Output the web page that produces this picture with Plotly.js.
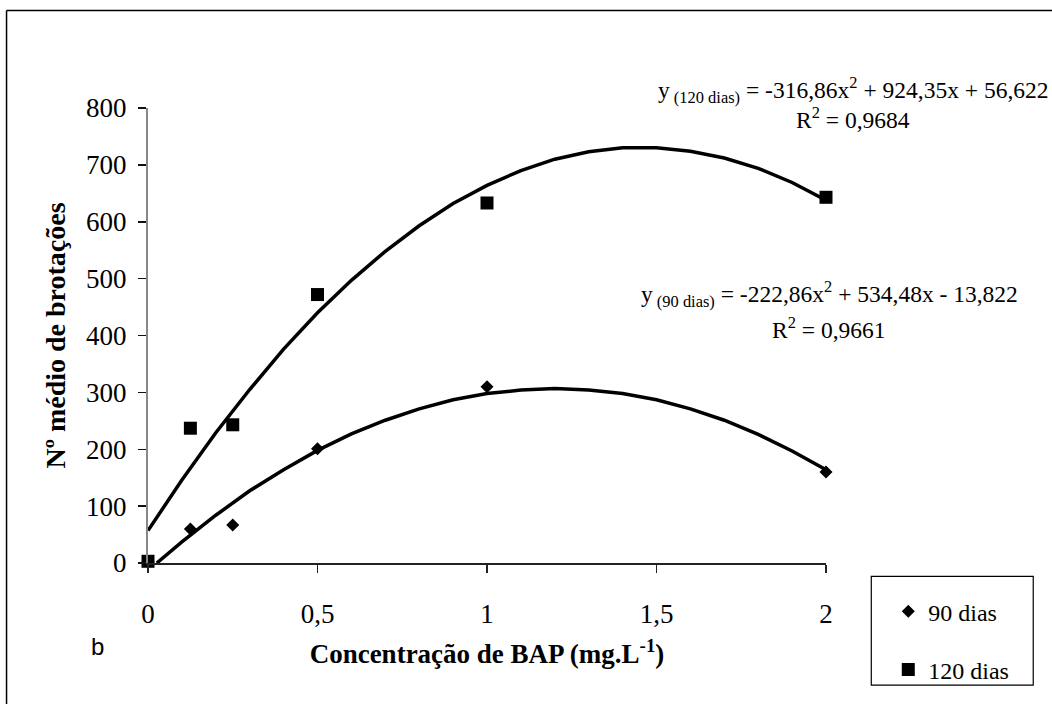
<!DOCTYPE html>
<html>
<head>
<meta charset="utf-8">
<script src="https://cdn.plot.ly/plotly-3.0.1.min.js"></script>
<style>html,body{margin:0;padding:0;background:#fff;}#chart{width:1052px;height:704px;}</style>
</head>
<body>
<div id="chart"></div>
<script>
// ---- data ----
const doses = [0, 0.125, 0.25, 0.5, 1, 2];
const dias90 = [2, 60, 67, 201, 310, 160];
const dias120 = [3, 237, 243, 472, 633, 643];

// trendline points
const curve120X = [0,0.1,0.2,0.3,0.4,0.5,0.6,0.7,0.8,0.9,1.0,1.1,1.2,1.3,1.4,1.5,1.6,1.7,1.8,1.9,2.0];
const curve120Y = [57,146,229,305,376,440,497,548,593,632,664,690,710,723,730,730,724,712,694,669,638];
const curve90X = [0.026,0.1,0.2,0.3,0.4,0.5,0.6,0.7,0.8,0.9,1.0,1.1,1.2,1.3,1.4,1.5,1.6,1.7,1.8,1.9,2.0];
const curve90Y = [0,37,84,127,164,198,227,251,271,287,298,304,307,304,298,287,271,251,226,197,164];

const xTickVals = [0, 0.5, 1, 1.5, 2];
const xTickText = ['0', '0,5', '1', '1,5', '2'];
const yTickVals = [0, 100, 200, 300, 400, 500, 600, 700, 800];

const eq120 = 'y<sub> (120 dias)</sub> = -316,86x<sup>2</sup> + 924,35x + 56,622';
const r120 = 'R<sup>2</sup> = 0,9684';
const eq90 = 'y<sub> (90 dias)</sub> = -222,86x<sup>2</sup> + 534,48x - 13,822';
const r90 = 'R<sup>2</sup> = 0,9661';

// ---- layout geometry ----
const W = 1052, H = 704;
const L = 147.5, R = 825.7, T = 107.5, B = 567.5;
const pw = R - L, ph = B - T;
const px = v => (v - L) / pw;
const py = v => (B - v) / ph;

const serif = 'Liberation Serif';

const traces = [
  {x: curve120X, y: curve120Y, mode: 'lines', line: {color: '#000', width: 3.5}, showlegend: false, hoverinfo: 'skip'},
  {x: curve90X, y: curve90Y, mode: 'lines', line: {color: '#000', width: 3.5}, showlegend: false, hoverinfo: 'skip'},
  {x: doses, y: dias90, mode: 'markers', name: '90 dias', legendgroup: 'a',
   marker: {symbol: 'diamond', size: 10, color: '#000'}, cliponaxis: false},
  {x: doses, y: dias120, mode: 'markers', name: '120 dias', legendgroup: 'b',
   marker: {symbol: 'square', size: 13, color: '#000'}, cliponaxis: false}
];

const layout = {
  width: W, height: H,
  margin: {l: L, r: W - R, t: T, b: H - B, pad: 0},
  paper_bgcolor: '#fff', plot_bgcolor: '#fff',
  font: {family: serif, color: '#000', size: 26},
  showlegend: true,
  legend: {
    x: px(888), y: py(594), xanchor: 'left', yanchor: 'top',
    font: {family: serif, size: 24, color: '#000'},
    traceorder: 'grouped', tracegroupgap: 24,
    borderwidth: 0, bgcolor: 'rgba(0,0,0,0)'
  },
  xaxis: {
    range: [0, 2], tickvals: xTickVals, ticktext: xTickText,
    showgrid: false, zeroline: false, showline: true, linecolor: '#222', linewidth: 1.5,
    ticks: 'outside', ticklen: 8, tickcolor: '#222', tickwidth: 1.5,
    ticklabelstandoff: 18,
    tickfont: {family: serif, size: 27, color: '#000'},
    title: {text: '<b>Concentração de BAP (mg.L<sup>-1</sup>)</b>', font: {family: serif, size: 27, color: '#000'}, standoff: 16}
  },
  yaxis: {
    range: [0, 800], tickvals: yTickVals,
    showgrid: false, zeroline: false, showline: true, linecolor: '#888', linewidth: 2,
    ticks: 'outside', ticklen: 8, tickcolor: '#111', tickwidth: 1.5,
    ticklabelstandoff: 6,
    tickfont: {family: serif, size: 27, color: '#000'},
    title: {text: '<b>Nº médio de brotações</b>', font: {family: serif, size: 28, color: '#000'}, standoff: 12}
  },
  annotations: [
    {text: eq120, xref: 'paper', yref: 'paper', x: px(853), y: py(89), xanchor: 'center', yanchor: 'middle', showarrow: false, font: {family: serif, size: 23.5}},
    {text: r120, xref: 'paper', yref: 'paper', x: px(853), y: py(118), xanchor: 'center', yanchor: 'middle', showarrow: false, font: {family: serif, size: 23.5}},
    {text: eq90, xref: 'paper', yref: 'paper', x: px(829), y: py(296), xanchor: 'center', yanchor: 'middle', showarrow: false, font: {family: serif, size: 23.5}},
    {text: r90, xref: 'paper', yref: 'paper', x: px(829), y: py(330), xanchor: 'center', yanchor: 'middle', showarrow: false, font: {family: serif, size: 23.5}},
    {text: 'b', xref: 'paper', yref: 'paper', x: px(97), y: py(652), xanchor: 'center', yanchor: 'middle', showarrow: false, font: {family: 'Liberation Sans', size: 24}}
  ],
  shapes: [
    {type: 'rect', xref: 'paper', yref: 'paper', x0: px(871), x1: px(1033), y0: py(581), y1: py(691), line: {color: '#000', width: 1.2}},
    {type: 'line', xref: 'paper', yref: 'paper', x0: px(6), x1: px(1060), y0: py(9), y1: py(9), line: {color: '#000', width: 1.5}},
    {type: 'line', xref: 'paper', yref: 'paper', x0: px(6), x1: px(6), y0: py(9), y1: py(710), line: {color: '#000', width: 1.5}}
  ]
};

Plotly.newPlot('chart', traces, layout, {displayModeBar: false, staticPlot: true});
</script>
</body>
</html>
